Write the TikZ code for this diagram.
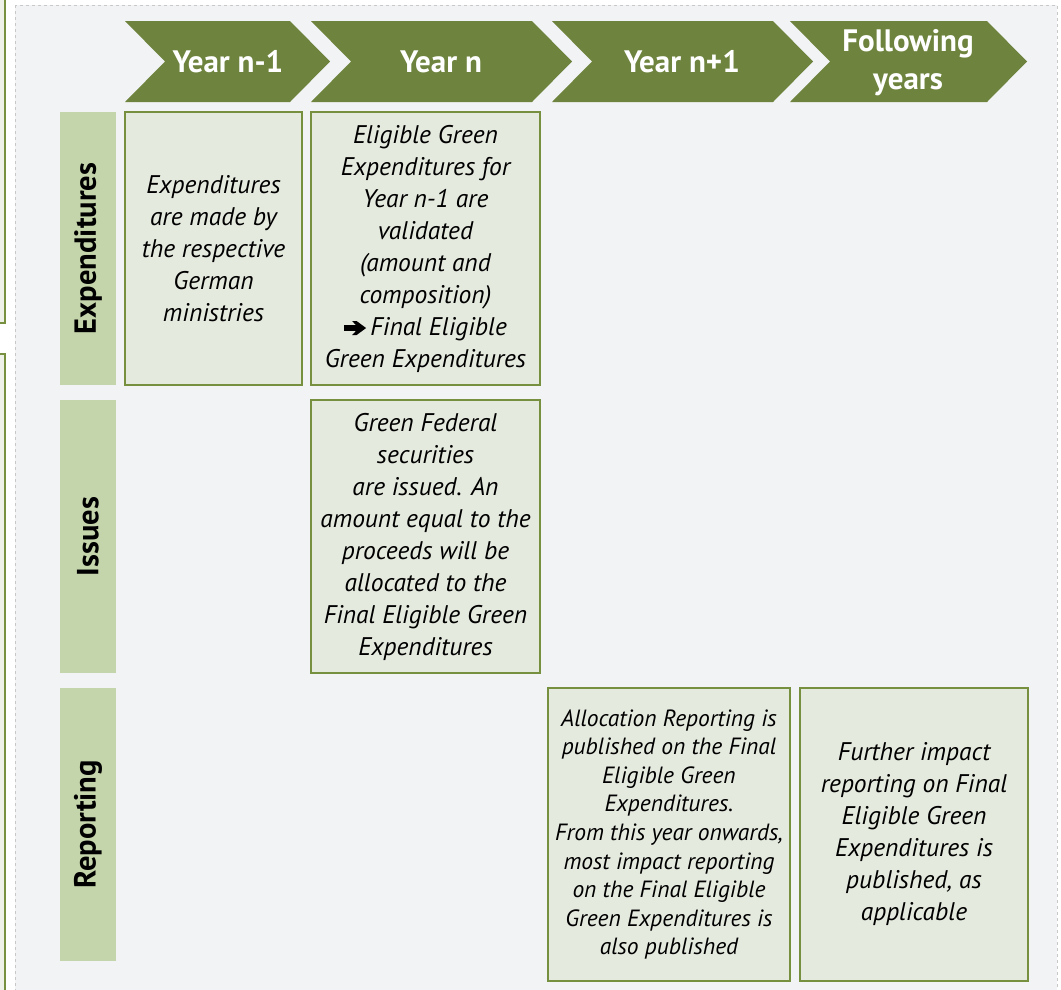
\documentclass[tikz,border=0pt]{standalone}
\usepackage{fontspec}
\setmainfont{PT Sans}
\definecolor{chevgreen}{HTML}{6E843E}
\definecolor{boxline}{HTML}{76903F}
\definecolor{boxfill}{HTML}{E5EADF}
\definecolor{barfill}{HTML}{C5D5AB}
\definecolor{bgfill}{HTML}{F2F3F5}
\definecolor{bgline}{HTML}{C8C8C8}
\definecolor{leftfill}{HTML}{EEF1E8}
\newcommand{\heavyarrow}{\tikz[x=1pt,y=1pt,baseline=-7pt]{\fill[black] (0,-2.8) -- (12,-2.8) -- (8,-7) -- (12.5,-7) -- (22,0) -- (12.5,7) -- (8,7) -- (12,2.8) -- (0,2.8) -- cycle;}}
\tikzset{
  chev/.style={fill=chevgreen},
  chevtext/.style={text=white, font=\fontsize{31}{38}\selectfont\bfseries, align=center, inner sep=0pt},
  cbox/.style={draw=boxline, line width=1.6pt, fill=boxfill, inner sep=0pt, align=center,
    font=\fontsize{25.5}{32}\selectfont\itshape},
  rowbar/.style={fill=barfill, inner sep=0pt, minimum width=56pt},
  rowtext/.style={rotate=90, font=\fontsize{30.5}{34}\selectfont\bfseries, inner sep=0pt},
}
\begin{document}
\begin{tikzpicture}[x=1pt, y=-1pt]
\useasboundingbox (0,0) rectangle (1061,989);
% left partial boxes
\draw[draw=boxline, line width=1.4pt, fill=leftfill] (-20,-20) rectangle (5,323);
\draw[draw=boxline, line width=1.4pt, fill=leftfill] (-20,354) rectangle (5,1010);
% background
\draw[draw=bgline, fill=bgfill, dashed, line width=1pt] (15,5) rectangle (1057,1010);
% chevrons
\fill[chev] (125,21) -- (290,21) -- (330,61.5) -- (290,102) -- (125,102) -- (165,61.5) -- cycle;
\fill[chev] (311,21) -- (532,21) -- (572,61.5) -- (532,102) -- (311,102) -- (351,61.5) -- cycle;
\fill[chev] (552,21) -- (773,21) -- (813,61.5) -- (773,102) -- (552,102) -- (592,61.5) -- cycle;
\fill[chev] (790,21) -- (987,21) -- (1027,61.5) -- (987,102) -- (790,102) -- (830,61.5) -- cycle;
\node[chevtext] (y1) at (228,62) {Year n-1};
\node[chevtext] (y2) at (441,62) {Year n};
\node[chevtext] (y3) at (682,62) {Year n+1};
\node[chevtext] (y4) at (908,63) {Following\\years};
% row bars
\node[rowbar, minimum height=273pt] (r1) at (88,248.5) {};
\node[rowbar, minimum height=273pt] (r2) at (88,536.5) {};
\node[rowbar, minimum height=273pt] (r3) at (88,824.5) {};
\node[rowtext] (t1) at (r1.center) {Expenditures};
\node[rowtext] (t2) at (r2.center) {Issues};
\node[rowtext] (t3) at (r3.center) {Reporting};
% boxes
\node[cbox, minimum width=177pt, minimum height=273pt] (b1) at (213.5,248.5)
  {Expenditures\\are made by\\the respective\\German\\ministries};
\node[cbox, minimum width=229pt, minimum height=273pt] (b2) at (425.5,248.5)
  {Eligible Green\\Expenditures for\\Year n-1 are\\validated\\(amount and\\composition)\\\heavyarrow\,Final Eligible\\Green Expenditures};
\node[cbox, minimum width=229pt, minimum height=273pt] (b3) at (425.5,536.5)
  {Green Federal\\securities\\are issued. An\\amount equal to the\\proceeds will be\\allocated to the\\Final Eligible Green\\Expenditures};
\node[cbox, minimum width=242pt, minimum height=293pt, font=\fontsize{23.5}{28.6}\selectfont\itshape] (b4) at (669,834.5)
  {Allocation Reporting is\\published on the Final\\Eligible Green\\Expenditures.\\From this year onwards,\\most impact reporting\\on the Final Eligible\\Green Expenditures is\\also published};
\node[cbox, minimum width=228pt, minimum height=293pt] (b5) at (914,834.5)
  {Further impact\\reporting on Final\\Eligible Green\\Expenditures is\\published, as\\applicable};
\end{tikzpicture}
\end{document}
